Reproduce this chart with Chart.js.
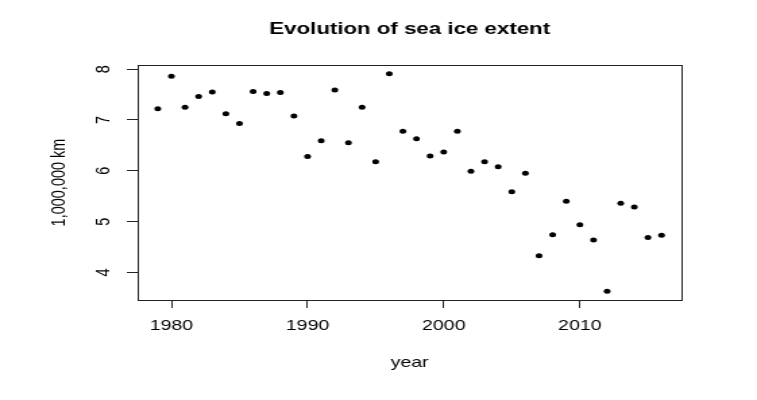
<!DOCTYPE html>
<html><head><meta charset="utf-8">
<script src="https://cdn.jsdelivr.net/npm/chart.js@4.4.1/dist/chart.umd.min.js"></script>
<style>
html,body{margin:0;padding:0;background:#fff;overflow:hidden;}
#wrap{width:561px;height:400px;transform:scaleX(1.34938);transform-origin:0 0;}
canvas{display:block}
</style></head><body>
<div id="wrap"><canvas id="c" width="561" height="400" style="width:561px;height:400px"></canvas></div>
<script>
const years = [1979,1980,1981,1982,1983,1984,1985,1986,1987,1988,1989,1990,1991,1992,1993,1994,1995,1996,1997,1998,1999,2000,2001,2002,2003,2004,2005,2006,2007,2008,2009,2010,2011,2012,2013,2014,2015,2016];
const extent = [7.22,7.86,7.25,7.46,7.55,7.12,6.93,7.56,7.52,7.54,7.08,6.28,6.59,7.59,6.55,7.25,6.18,7.91,6.78,6.63,6.29,6.37,6.78,5.99,6.18,6.08,5.59,5.95,4.33,4.74,5.40,4.94,4.64,3.63,5.36,5.29,4.69,4.73];
const xTickValues = [1980,1990,2000,2010];
const xTickLabels = ['1980','1990','2000','2010'];
const yTickValues = [4,5,6,7,8];
const yTickLabels = ['4','5','6','7','8'];
const titleText = 'Evolution of sea ice extent';
const xLabel = 'year';
const yLabel = '1,000,000 km';

const FONT = '"Liberation Sans", Arial, Helvetica, sans-serif';
const AXIS_SIZE = 14.5;

function rRange(arr){
  const lo = Math.min(...arr), hi = Math.max(...arr);
  const pad = (hi - lo) * 0.04;
  return [lo - pad, hi + pad];
}
const [xMin, xMax] = rRange(years);
const [yMin, yMax] = rRange(extent);

const points = years.map((yr, i) => ({x: yr, y: extent[i]}));

const rStyle = {
  id: 'rStyle',
  afterDraw(chart) {
    const {ctx, chartArea: a, scales: {y}} = chart;
    ctx.save();
    ctx.strokeStyle = '#222';
    ctx.lineWidth = 1;
    ctx.strokeRect(Math.round(a.left) + 0.5, Math.round(a.top) + 0.5,
                   Math.round(a.right - a.left), Math.round(a.bottom - a.top));
    ctx.fillStyle = '#000';
    ctx.font = AXIS_SIZE + 'px ' + FONT;
    ctx.textAlign = 'center';
    ctx.textBaseline = 'middle';
    yTickValues.forEach((v, i) => {
      const py = y.getPixelForValue(v);
      ctx.save();
      ctx.translate(a.left - 25.3, py);
      ctx.rotate(-Math.PI / 2);
      ctx.fillText(yTickLabels[i], 0, 0);
      ctx.restore();
    });
    ctx.restore();
  }
};

new Chart(document.getElementById('c'), {
  type: 'scatter',
  data: {
    datasets: [{
      data: points,
      backgroundColor: '#000',
      borderColor: '#000',
      borderWidth: 0,
      pointRadius: 2.5,
      pointHoverRadius: 2.5
    }]
  },
  options: {
    responsive: false,
    animation: false,
    devicePixelRatio: 1,
    layout: {padding: {left: 0, right: 55.8, top: 0, bottom: 0}},
    plugins: {
      legend: {display: false},
      tooltip: {enabled: false},
      title: {
        display: true,
        text: titleText,
        fullSize: false,
        color: '#000',
        font: {family: FONT, size: 16.5, weight: 'bold', lineHeight: 1.2},
        padding: {top: 20, bottom: 25.2}
      }
    },
    scales: {
      x: {
        type: 'linear',
        min: xMin, max: xMax,
        afterBuildTicks: s => { s.ticks = xTickValues.map(v => ({value: v})); },
        afterFit: s => { s.height = 100; },
        border: {display: true, color: '#222', width: 1},
        grid: {display: true, drawOnChartArea: false, drawTicks: true, tickLength: 8, color: '#222'},
        ticks: {
          autoSkip: false, maxRotation: 0, minRotation: 0,
          color: '#000', padding: 9,
          font: {family: FONT, size: AXIS_SIZE},
          callback: (v) => { const i = xTickValues.indexOf(v); return i >= 0 ? xTickLabels[i] : ''; }
        },
        title: {
          display: true, text: xLabel, color: '#000',
          font: {family: FONT, size: AXIS_SIZE, lineHeight: 1.2},
          padding: {top: 0, bottom: 28}
        }
      },
      y: {
        type: 'linear',
        min: yMin, max: yMax,
        afterBuildTicks: s => { s.ticks = yTickValues.map(v => ({value: v})); },
        afterFit: s => { s.width = 102; },
        border: {display: true, color: '#222', width: 1},
        grid: {display: true, drawOnChartArea: false, drawTicks: true, tickLength: 8, color: '#222'},
        ticks: {display: false},
        title: {
          display: true, text: yLabel, color: '#000',
          font: {family: FONT, size: AXIS_SIZE, lineHeight: 1.2},
          padding: {top: 35, bottom: 0}
        }
      }
    }
  },
  plugins: [rStyle]
});
</script>
</body></html>
